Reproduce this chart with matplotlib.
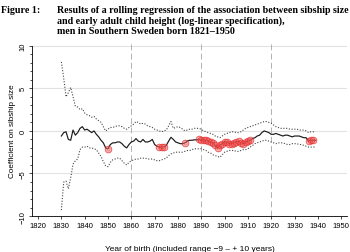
import numpy as np
import matplotlib
matplotlib.use("Agg")
import matplotlib.pyplot as plt

plt.rcParams['font.family'] = ['Liberation Sans', 'DejaVu Sans']

# datos (coeficiente por año de nacimiento, ventana móvil)
anios = np.arange(1830, 1940)
coef = [-0.6, -0.2, -0.1, -1.0, -1.1, 0.1, -0.5, -0.2, 0.3, 0.5,
        0.1, 0.2, 0.0, -0.2, 0.0, -0.4, -0.7, -1.1, -1.4, -2.0,
        -2.1, -1.6, -1.4, -1.4, -1.3, -1.3, -1.5, -1.8, -2.0, -1.6,
        -1.3, -1.2, -0.9, -1.2, -1.3, -1.0, -1.3, -1.3, -1.2, -1.0,
        -1.6, -1.8, -1.9, -1.9, -1.9, -1.7, -1.2, -0.75, -1.0, -1.3,
        -1.4, -1.5, -1.5, -1.4, -1.2, -1.1, -1.1, -1.05, -1.05, -1.0,
        -1.1, -1.05, -1.1, -1.2, -1.3, -1.4, -1.7, -2.0, -1.7, -1.5,
        -1.3, -1.3, -1.5, -1.5, -1.4, -1.3, -1.2, -1.4, -1.5, -1.3,
        -1.2, -1.1, -0.9, -0.8, -0.6, -0.5, -0.2, 0.0, -0.1, -0.2,
        -0.4, -0.4, -0.3, -0.4, -0.5, -0.6, -0.5, -0.5, -0.6, -0.7,
        -0.6, -0.6, -0.6, -0.7, -0.8, -0.8, -1.2, -1.1, -1.1, -1.1]
sup = [8.1, 6.2, 4.0, 4.5, 5.1, 4.0, 2.9, 2.8, 2.5, 2.6,
       2.1, 1.9, 1.8, 1.6, 1.7, 1.4, 1.2, 1.0, 0.5, 0.0,
       0.2, 0.4, 0.4, 0.5, 0.6, 0.6, 0.5, 0.3, 0.2, 0.4,
       0.6, 0.8, 1.1, 1.0, 0.8, 0.9, 0.8, 0.6, 0.5, 0.4,
       0.2, 0.1, 0.0, -0.1, 0.0, 0.1, 0.6, 1.1, 0.3, 0.4,
       0.5, 0.4, 0.2, 0.0, 0.1, 0.2, 0.2, 0.3, 0.3, 0.3,
       0.2, 0.0, -0.1, -0.2, -0.3, -0.4, -0.6, -0.7, -0.8, -0.6,
       -0.4, -0.3, -0.2, -0.1, -0.1, -0.2, -0.2, -0.1, 0.1, 0.3,
       0.4, 0.5, 0.6, 0.7, 0.8, 0.9, 1.0, 1.1, 1.1, 1.0,
       0.9, 0.7, 0.5, 0.4, 0.3, 0.3, 0.3, 0.3, 0.2, 0.2,
       0.2, 0.2, 0.1, 0.1, 0.1, 0.0, -0.2, -0.1, -0.1, -0.1]
inf = [-9.3, -6.0, -5.9, -6.8, -5.5, -3.9, -3.5, -3.3, -2.2, -1.9,
       -1.9, -1.8, -2.0, -2.0, -2.1, -2.2, -2.6, -3.0, -3.6, -4.1,
       -4.2, -3.7, -3.4, -3.3, -3.2, -3.2, -3.5, -3.8, -4.0, -3.7,
       -3.5, -3.4, -3.3, -3.3, -3.2, -3.2, -3.2, -3.3, -3.3, -3.3,
       -3.4, -3.5, -3.5, -3.4, -3.3, -3.2, -2.9, -2.7, -2.6, -2.5,
       -2.5, -2.5, -2.5, -2.4, -2.3, -2.3, -2.2, -2.1, -2.1, -2.1,
       -2.1, -2.2, -2.3, -2.5, -2.6, -2.8, -2.9, -3.0, -3.1, -2.8,
       -2.5, -2.4, -2.3, -2.3, -2.3, -2.4, -2.4, -2.3, -2.2, -2.2,
       -2.1, -1.9, -1.7, -1.5, -1.4, -1.3, -1.2, -1.1, -1.1, -1.2,
       -1.3, -1.4, -1.5, -1.4, -1.4, -1.4, -1.5, -1.6, -1.6, -1.5,
       -1.5, -1.5, -1.6, -1.6, -1.7, -1.8, -1.9, -1.9, -1.9, -1.9]
# años con coeficiente significativo (círculos rojos)
signif = [1850, 1872, 1873, 1874, 1883] + list(range(1889, 1912)) + [1936, 1937, 1938]
cortes = [1860, 1890, 1920]

coef = np.array(coef)
mask = np.isin(anios, signif)

fig = plt.figure(figsize=(3.5, 2.53), dpi=100)
ax = fig.add_axes([0.0914, 0.142, 0.9, 0.68])

for v in range(-10, 11, 5):
    ax.axhline(v, color='#e2e2e2', lw=0.8, zorder=0)
for c in cortes:
    ax.axvline(c, color='#b0b0b0', lw=0.7, ls=(0, (6, 3.5)), zorder=1)

ax.plot(anios, sup, color='#444444', lw=0.8, ls=(0, (1, 1.5)))
ax.plot(anios, inf, color='#444444', lw=0.8, ls=(0, (1, 1.5)))
ax.plot(anios, coef, color='#1a1a1a', lw=0.85)
ax.plot(anios[mask], coef[mask], 'o', ms=4.8, mfc=(0.95, 0.4, 0.4, 0.45),
        mec=(0.9, 0.15, 0.15, 0.75), mew=0.6, ls='none')
ax.plot(anios[mask], coef[mask], 'o', ms=2.2, mfc='none',
        mec=(0.9, 0.2, 0.2, 0.55), mew=0.4, ls='none')

ax.set_xlim(1817.4, 1952.5)
ax.set_ylim(-10.0, 10.2)
ax.set_xticks(range(1820, 1951, 10))
ax.set_yticks(range(-10, 11, 5))
ax.set_yticks(range(-10, 11), minor=True)

for s in ['top', 'right']:
    ax.spines[s].set_visible(False)
ax.spines['left'].set_bounds(-10, 10)
ax.spines['left'].set_linewidth(0.6)
ax.spines['bottom'].set_linewidth(0.6)

ax.tick_params(axis='both', labelsize=5.5, width=0.5, length=2.5, pad=1.5)
ax.tick_params(axis='y', which='minor', width=0.5, length=1.5)
ax.set_yticklabels(['\u221210', '\u22125', '0', '5', '10'], rotation=90, va='center')

ax.set_ylabel('Coefficient on sibship size', fontsize=5.9, labelpad=2.5)
ax.set_xlabel('Year of birth (included range \u22129 \u2013 + 10 years)', fontsize=6.0,
              labelpad=12)

fig.text(0.003, 0.978, 'Figure 1:', fontsize=7.2, fontweight='bold',
         family='Liberation Serif', va='top', ha='left')
fig.text(0.163, 0.978,
         'Results of a rolling regression of the association between sibship size\n'
         'and early adult child height (log-linear specification),\n'
         'men in Southern Sweden born 1821\u20131950',
         fontsize=7.2, fontweight='bold', family='Liberation Serif', va='top', ha='left',
         linespacing=1.2)

fig.savefig('out.png', dpi=100)
